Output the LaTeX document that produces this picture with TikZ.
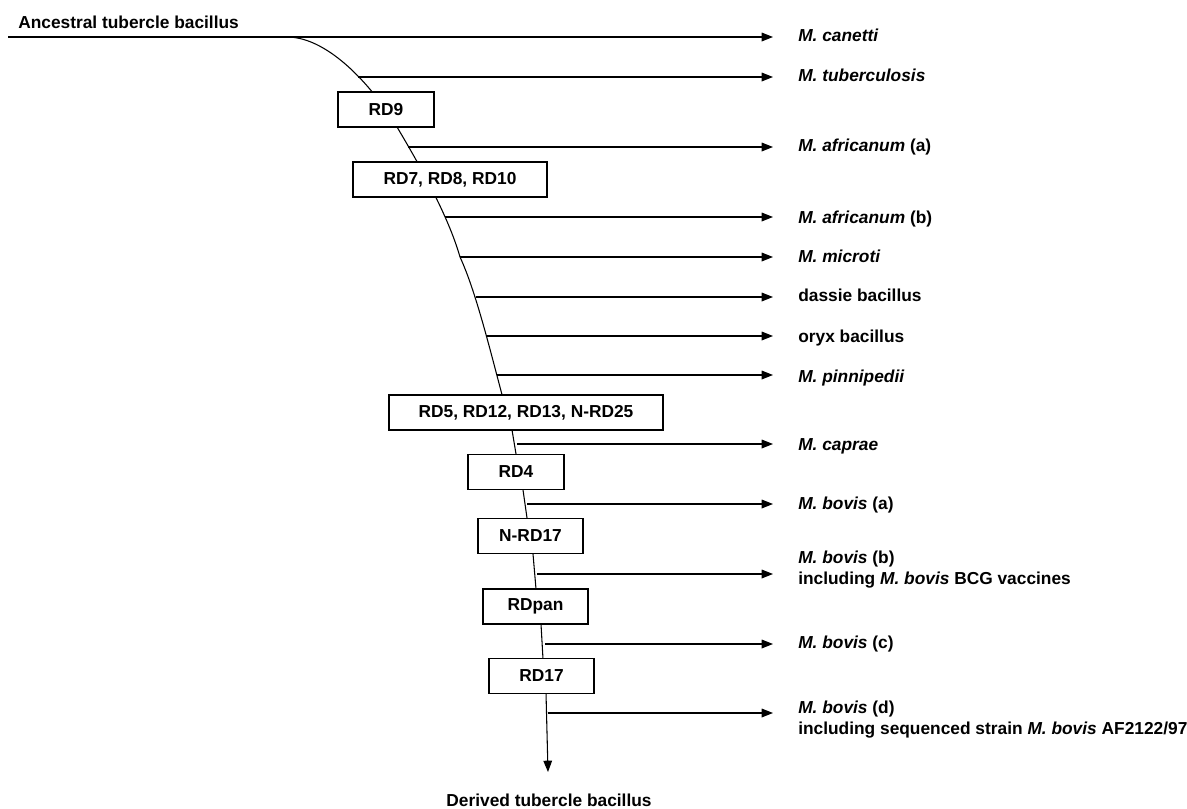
\documentclass[tikz,border=0pt]{standalone}
\usepackage{fontspec}
\setmainfont{Liberation Sans}
\usetikzlibrary{arrows.meta}
\begin{document}
\begin{tikzpicture}[x=0.75pt,y=-0.75pt,
  every node/.style={font=\fontsize{13}{15}\selectfont\bfseries, inner sep=0pt},
  lab/.style={anchor=base west},
  rdbox/.style={draw, line width=1.1pt, fill=white, minimum height=26.25pt},
  trunk/.style={line width=0.8pt},
  arr/.style={line width=0.9pt, -{Triangle[length=8.5pt,width=6.5pt]}, shorten >=18.75pt}]
\useasboundingbox (0,0) rectangle (1187,808);

% ---- labels ----
\node[lab] (anc) at (18,28) {Ancestral tubercle bacillus};
\node[anchor=base] (der) at (549,806) {Derived tubercle bacillus};

\node[lab] (canetti) at (798,41) {\textit{M. canetti}};
\node[lab] (tuber) at (798,81) {\textit{M. tuberculosis}};
\node[lab] (afra) at (798,151) {\textit{M. africanum} (a)};
\node[lab] (afrb) at (798,223) {\textit{M. africanum} (b)};
\node[lab] (microti) at (798,262) {\textit{M. microti}};
\node[lab] (dassie) at (798,301) {dassie bacillus};
\node[lab] (oryx) at (798,342) {oryx bacillus};
\node[lab] (pinni) at (798,382) {\textit{M. pinnipedii}};
\node[lab] (caprae) at (798,450) {\textit{M. caprae}};
\node[lab] (bovisa) at (798,509) {\textit{M. bovis} (a)};
\node[lab] (bovisb) at (798,563) {\textit{M. bovis} (b)};
\node[lab] (bovisbx) at (798,584) {including \textit{M. bovis} BCG vaccines};
\node[lab] (bovisc) at (798,648) {\textit{M. bovis} (c)};
\node[lab] (bovisd) at (798,713) {\textit{M. bovis} (d)};
\node[lab] (bovisdx) at (798,734) {including sequenced strain \textit{M. bovis} AF2122/97};

% ---- trunk coordinates ----
\coordinate (start) at (8,37);
\coordinate (t0) at (287,37);
\coordinate (t1) at (397,127);
\coordinate (t2) at (460,257);
\coordinate (t3) at (512,430);
\coordinate (tend) at (548,772);

% ---- branch start coordinates ----
\coordinate (b1) at (358,77);
\coordinate (b2) at (408,147);
\coordinate (b3) at (445,217);
\coordinate (b4) at (t2);
\coordinate (b5) at (476,297);
\coordinate (b6) at (487,336);
\coordinate (b7) at (497,375);
\coordinate (b8) at (517,444);
\coordinate (b9) at (527,504);
\coordinate (b10) at (537,574);
\coordinate (b11) at (545,644);
\coordinate (b12) at (547.5,713);

% ---- trunk ----
\draw[trunk] (start) -- (t0)
  .. controls (330,37) and (375,90) .. (t1)
  .. controls (419,164) and (448,215) .. (t2)
  .. controls (480,300) and (498,385) .. (t3);
\draw[trunk, -{Triangle[length=8.5pt,width=6.5pt]}] (t3) -- (516,454) -- (523,490) -- (527,518) -- (533,554) -- (536,589) -- (541,624) -- (543,659) -- (546,693) -- (tend);

% ---- branches ----
\draw[arr] (start) -- (start -| canetti.west);
\draw[arr] (b1) -- (b1 -| tuber.west);
\draw[arr] (b2) -- (b2 -| afra.west);
\draw[arr] (b3) -- (b3 -| afrb.west);
\draw[arr] (b4) -- (b4 -| microti.west);
\draw[arr] (b5) -- (b5 -| dassie.west);
\draw[arr] (b6) -- (b6 -| oryx.west);
\draw[arr] (b7) -- (b7 -| pinni.west);
\draw[arr] (b8) -- (b8 -| caprae.west);
\draw[arr] (b9) -- (b9 -| bovisa.west);
\draw[arr] (b10) -- (b10 -| bovisbx.west);
\draw[arr] (b11) -- (b11 -| bovisc.west);
\draw[arr] (b12) -- (b12 -| bovisd.west);

% ---- RD boxes ----
\node[rdbox, minimum width=72pt] (rd9) at (386,109.5) {RD9};
\node[rdbox, minimum width=145.5pt] (rd7) at (450,179.5) {RD7, RD8, RD10};
\node[rdbox, minimum width=205.5pt] (rd5) at (526,412.5) {RD5, RD12, RD13, N-RD25};
\node[rdbox, minimum width=72pt] (rd4) at (516,472) {RD4};
\node[rdbox, minimum width=78.75pt] (nrd17) at (530.5,536) {N-RD17};
\node[rdbox, minimum width=78.75pt] (rdpan) at (535.5,606.5) {RDpan};
\node[rdbox, minimum width=78.75pt] (rd17) at (541.5,676) {RD17};
\end{tikzpicture}
\end{document}
